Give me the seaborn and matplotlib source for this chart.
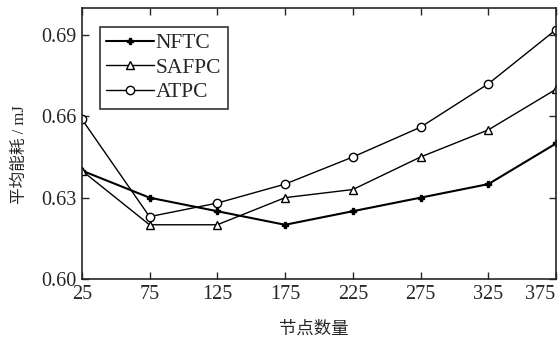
import matplotlib
matplotlib.use("Agg")
import pandas as pd
import seaborn as sns
import matplotlib.pyplot as plt
from matplotlib.transforms import ScaledTranslation

# node counts and average energy (mJ)
nodes = [25, 75, 125, 175, 225, 275, 325, 375]
nftc = [0.640, 0.630, 0.625, 0.620, 0.625, 0.630, 0.635, 0.650]
safpc = [0.640, 0.620, 0.620, 0.630, 0.633, 0.645, 0.655, 0.670]
atpc = [0.659, 0.623, 0.628, 0.635, 0.645, 0.656, 0.672, 0.692]
series = ["NFTC", "SAFPC", "ATPC"]

df = pd.DataFrame({
    "nodes": nodes * 3,
    "energy": nftc + safpc + atpc,
    "method": [s for s in series for _ in nodes],
})

sns.set_style("ticks")
plt.rcParams["font.family"] = ["Liberation Serif", "Noto Sans CJK SC"]
plt.rcParams["xtick.direction"] = "in"
plt.rcParams["ytick.direction"] = "in"

fig = plt.figure(figsize=(5.6, 3.44), dpi=100)
ax = fig.add_axes([0.146, 0.189, 0.847, 0.788])

styles = {
    "NFTC": dict(marker="P", markersize=5, linewidth=1.5, markerfacecolor="k"),
    "SAFPC": dict(marker="^", markersize=6, linewidth=1.0, markerfacecolor="white"),
    "ATPC": dict(marker="o", markersize=6, linewidth=1.0, markerfacecolor="white"),
}
for s in series:
    sns.lineplot(data=df[df["method"] == s], x="nodes", y="energy", ax=ax,
                 color="k", markeredgecolor="k", markeredgewidth=1.0,
                 label=s, **styles[s])

ax.set_xlim(25, 375)
ax.set_ylim(0.60, 0.70)
ax.set_xticks(nodes)
ax.set_yticks([0.60, 0.63, 0.66, 0.69])
ax.set_yticklabels(["0.60", "0.63", "0.66", "0.69"])
ax.tick_params(labelsize=14.5, length=5, width=1, top=True, right=True, pad=4)
# last x label sits against the right edge
last = ax.get_xticklabels()[-1]
last.set_transform(last.get_transform() + ScaledTranslation(-0.16, 0, fig.dpi_scale_trans))
for sp in ax.spines.values():
    sp.set_linewidth(1.2)
    sp.set_visible(True)

ax.set_xlabel("节点数量", fontsize=12.5)
ax.xaxis.set_label_coords(0.49, -0.188)
ax.xaxis.label.set_va("center")
ax.set_ylabel("平均能耗 / mJ", fontsize=12)
ax.yaxis.set_label_coords(-0.131, 0.458)
ax.yaxis.label.set_va("center")

leg = ax.legend(loc="upper left", bbox_to_anchor=(0.038, 0.93), fontsize=15.5,
                frameon=True, fancybox=False, handlelength=2.2,
                handletextpad=0.1, borderpad=0.3, labelspacing=0.2,
                borderaxespad=0)
leg.get_frame().set_edgecolor("k")
leg.get_frame().set_linewidth(1.2)

fig.savefig("out.png", dpi=100)
